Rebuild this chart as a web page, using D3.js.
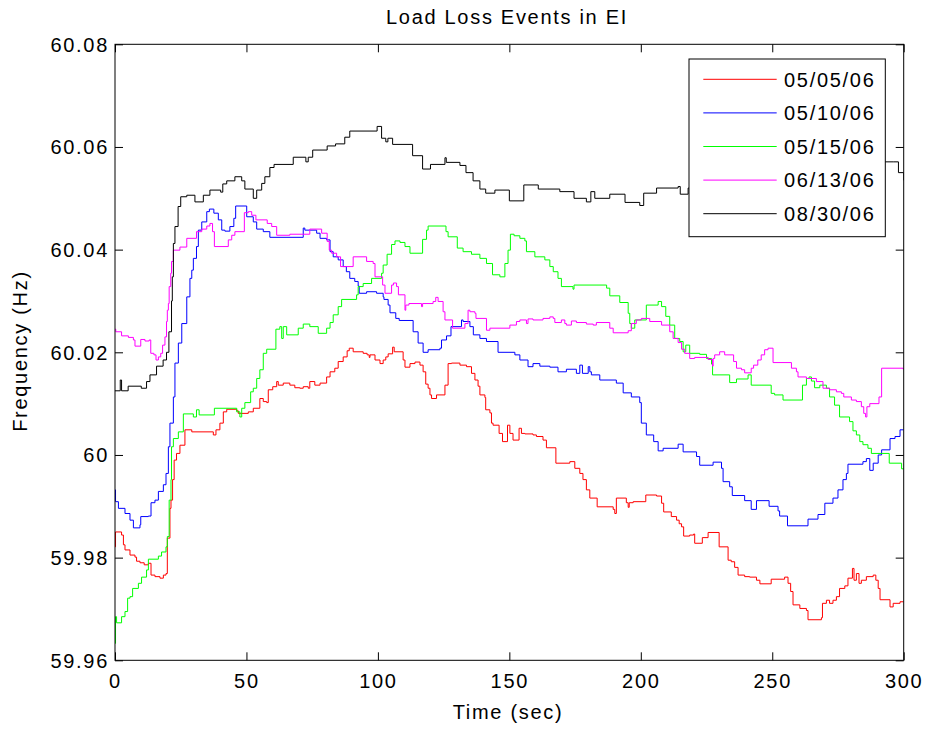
<!DOCTYPE html>
<html>
<head>
<meta charset="utf-8">
<script src="https://cdn.jsdelivr.net/npm/d3@7"></script>
<style>
  body { margin: 0; background: #fff; }
  svg text { font-family: "Liberation Sans", Arial, sans-serif; font-size: 20px; letter-spacing: 1.7px; fill: #000; }
</style>
</head>
<body>
<svg id="canvas" width="927" height="730"></svg>
<script>
// event dates (legend order) and their colours
let dates = ['05/05/06', '05/10/06', '05/15/06', '06/13/06', '08/30/06'];
let colors = ['#ff0000', '#0000ff', '#00ff00', '#ff00ff', '#000000'];
let xTicks = [0, 50, 100, 150, 200, 250, 300];
let yTicks = [59.96, 59.98, 60, 60.02, 60.04, 60.06, 60.08];
let yTickLabels = ['59.96', '59.98', '60', '60.02', '60.04', '60.06', '60.08'];

// [time (sec), frequency (Hz)], step changes
let ev050506 = [[0,59.9821],[0.2,59.985],[2.5,59.9844],[3.2,59.9825],[3.8,59.9815],[5.7,59.9805],[7.6,59.9801],[8.2,59.9793],[9.5,59.979],[11.1,59.9786],[12.7,59.9789],[13.7,59.9766],[15.2,59.9763],[17.1,59.976],[18.4,59.9766],[19.4,59.9769],[19.9,59.9838],[20.9,59.9896],[21.3,59.9912],[21.9,59.9952],[22.5,59.999],[23.4,60.0003],[24.7,60.0019],[26.6,60.0049],[29.2,60.0045],[37.4,60.0039],[38.4,60.0049],[39.9,60.0062],[41.2,60.0084],[42.5,60.0089],[46.3,60.0086],[46.9,60.0081],[50.7,60.0084],[52.6,60.0091],[55.1,60.011],[56.4,60.0104],[57.7,60.0102],[58.3,60.0127],[60,60.0133],[61.5,60.0143],[62.1,60.0136],[64,60.014],[66.5,60.0136],[68.4,60.0131],[70.3,60.013],[71.6,60.0133],[73.5,60.013],[74.1,60.0143],[76,60.0136],[78,60.014],[80.5,60.0152],[81.8,60.0162],[83.6,60.0169],[84.9,60.0182],[86.8,60.0191],[88.3,60.0203],[89.1,60.0208],[90.6,60.0201],[94.4,60.0198],[95.9,60.0195],[96.7,60.019],[97,60.0195],[98.9,60.0185],[100.8,60.0178],[102,60.0185],[103,60.0191],[103.9,60.0197],[105.6,60.021],[106.2,60.0201],[109.6,60.0185],[110.3,60.0171],[112.2,60.0178],[114.1,60.0181],[116,60.0175],[117.2,60.0162],[118.2,60.0138],[119.1,60.013],[119.8,60.0117],[120.4,60.011],[122.3,60.0117],[125.5,60.0136],[126.7,60.0178],[128,60.0179],[131.2,60.0175],[133.7,60.0172],[135.6,60.0159],[136.9,60.0146],[138.1,60.0134],[138.8,60.0117],[140.7,60.0112],[141,60.0088],[142.6,60.0082],[143.2,60.0062],[143.8,60.0058],[146.1,60.0042],[147.4,60.0026],[149.3,60.0058],[150.2,60.0042],[151.4,60.0029],[153.7,60.0052],[154.6,60.0042],[155.9,60.0041],[159,60.0039],[160.3,60.0036],[162.8,60.0029],[164.1,60.0014],[167.7,59.9984],[173,59.9987],[174.9,59.9974],[176.8,59.9964],[178,59.9952],[179.3,59.9932],[180.6,59.9916],[183.4,59.9899],[189.5,59.9894],[190.1,59.9886],[190.7,59.9916],[194.5,59.9907],[195.2,59.9898],[195.6,59.9907],[197.1,59.9909],[201.9,59.9922],[206,59.992],[207.9,59.9906],[208.7,59.9889],[211.6,59.988],[213.6,59.9873],[214.6,59.9866],[215.5,59.986],[216.3,59.9842],[218.6,59.9844],[220.1,59.9846],[220.5,59.9828],[223.4,59.9839],[225.6,59.9849],[229.8,59.9821],[233.2,59.9795],[234.4,59.9792],[235.7,59.9781],[237,59.9766],[239.5,59.9763],[241.4,59.9762],[244,59.9756],[245.3,59.9749],[249.6,59.9758],[254.7,59.9762],[256,59.975],[257,59.9734],[257.9,59.9708],[260.5,59.9701],[263,59.9697],[263.6,59.9679],[268.7,59.9683],[269.1,59.9711],[270.6,59.9717],[271.8,59.9711],[273.1,59.9717],[274.4,59.9724],[275.6,59.974],[277.6,59.9745],[278.8,59.976],[280.5,59.9779],[281.1,59.9756],[282,59.9769],[283,59.975],[283.9,59.9756],[285.8,59.9763],[288.4,59.9766],[289.4,59.9756],[290.3,59.974],[291,59.9718],[294.8,59.9704],[296,59.9711],[298.6,59.9714],[300,59.9714]];

let ev051006 = [[0,59.9932],[0.2,59.9909],[1.3,59.9896],[3.8,59.9886],[5.7,59.9873],[7,59.9858],[9.5,59.9864],[9.8,59.988],[12.7,59.9881],[13.7,59.9907],[15.2,59.9912],[16.5,59.9929],[18.4,59.9942],[19.4,59.9964],[20.3,60.0016],[20.9,60.0062],[22.2,60.0113],[22.8,60.0179],[24.1,60.0218],[25.4,60.0256],[27.3,60.0308],[28.5,60.0344],[29.2,60.036],[29.8,60.0383],[31,60.0406],[31.7,60.0438],[33,60.0454],[34.9,60.0474],[35.9,60.0479],[37.6,60.0471],[39.3,60.0458],[40.6,60.0438],[41.8,60.0436],[43.7,60.0445],[45.2,60.0461],[45.9,60.0485],[50.1,60.0464],[52.6,60.0454],[53.9,60.044],[56.4,60.0435],[58.9,60.0424],[71.6,60.0442],[72.2,60.0438],[76.7,60.0432],[78,60.0422],[80.5,60.0419],[81.8,60.0396],[83,60.0386],[84.9,60.038],[86.8,60.0367],[88,60.0357],[89.3,60.0344],[91.2,60.0338],[92.5,60.0329],[92.9,60.0315],[95.7,60.0318],[99.5,60.0315],[102,60.0308],[102.3,60.0303],[103.9,60.0292],[104.6,60.0277],[106.8,60.0266],[108.1,60.0262],[113.4,60.024],[115.3,60.0218],[117.2,60.02],[119.1,60.0205],[123.6,60.0208],[124.2,60.0224],[126.1,60.0232],[127.8,60.025],[131.8,60.0263],[132.4,60.026],[135,60.025],[136.3,60.0234],[138.8,60.0227],[141.3,60.0221],[145.7,60.02],[152.1,60.0195],[154,60.0185],[157.1,60.0172],[159,60.0178],[161.6,60.0173],[165.4,60.0171],[168.5,60.0162],[171.7,60.0167],[175.5,60.0159],[176.8,60.0175],[177.8,60.0159],[180,60.0172],[180.6,60.0162],[181.2,60.0156],[184.4,60.0146],[190.7,60.014],[193.3,60.0121],[196.4,60.0113],[199.6,60.0102],[200.2,60.0062],[202.1,60.0039],[204.9,60.0026],[206.6,60.0008],[208.5,60.0013],[214.2,60.0021],[216.1,60.0006],[221.2,59.9997],[222.4,59.998],[227.5,59.9986],[230.7,59.9974],[231.3,59.9948],[233.8,59.9938],[234.8,59.9921],[239.5,59.9911],[242,59.9894],[244,59.9911],[248.8,59.99],[252.2,59.9891],[252.8,59.9881],[255.8,59.9862],[263.6,59.9875],[267.4,59.9884],[270,59.9906],[273.1,59.9916],[275,59.9932],[276.9,59.9952],[278.2,59.9964],[278.8,59.9982],[284.5,59.9987],[285.8,59.9993],[287.1,59.997],[288.4,59.9984],[290.3,60.0],[291.6,60.001],[294.8,60.0032],[296.7,60.0036],[298.6,60.0049],[300,60.0049]];

let ev051506 = [[0,59.9633],[0.2,59.9685],[0.6,59.9673],[2.5,59.9685],[3.8,59.9695],[4.8,59.9721],[5.7,59.9724],[6.7,59.974],[8.9,59.975],[10.1,59.9762],[12,59.9776],[12.7,59.9797],[16.5,59.9803],[17.7,59.9811],[19.4,59.9821],[19.9,59.9841],[20.6,59.9912],[21.3,59.9952],[21.5,60.0016],[22.2,60.0032],[24.1,60.0045],[26,60.008],[29.8,60.0074],[31,60.0088],[32,60.0078],[37.8,60.0091],[46.3,60.0084],[47.5,60.0074],[48.2,60.0091],[49.4,60.0102],[51.6,60.0123],[52.6,60.013],[53.9,60.0149],[55.1,60.0166],[56.4,60.0198],[57.7,60.0206],[61.2,60.0245],[62.7,60.025],[63.4,60.0227],[64,60.025],[65.3,60.0234],[69.7,60.0247],[71.6,60.0255],[74.1,60.025],[77.3,60.0237],[80.5,60.0247],[81.8,60.0258],[83,60.0273],[84.9,60.0289],[86.2,60.0303],[91.9,60.0312],[92.5,60.0328],[94.4,60.0334],[97.6,60.0344],[101.4,60.0354],[102,60.037],[103.5,60.0391],[105.2,60.041],[106.5,60.0417],[108.4,60.0414],[110.3,60.0406],[112.2,60.0393],[117,60.042],[118.5,60.0438],[119.1,60.0446],[125.9,60.0435],[126.7,60.0425],[130.2,60.0403],[132.4,60.0396],[135.6,60.0391],[138.8,60.0383],[141.3,60.0373],[143.6,60.0351],[146.4,60.0347],[148.3,60.0373],[149.5,60.0399],[150.4,60.043],[151.8,60.0427],[154,60.0422],[155.9,60.0417],[156.5,60.0396],[159.7,60.0386],[163.5,60.038],[165.4,60.0367],[166.7,60.0357],[168.5,60.0344],[169.8,60.0328],[174.2,60.0323],[174.6,60.0331],[187,60.0325],[188.2,60.031],[192,60.0297],[195.2,60.0276],[195.8,60.0256],[196.4,60.0247],[197.7,60.0263],[202.1,60.0292],[206.6,60.0299],[207.9,60.0289],[209.5,60.027],[211,60.0253],[212.9,60.0227],[214.8,60.0221],[216.1,60.0201],[217.1,60.0214],[218.6,60.0198],[222.4,60.0196],[225,60.0188],[226.9,60.0177],[227.3,60.0156],[233.8,60.0141],[236.4,60.0148],[240.8,60.0156],[242,60.0136],[249.6,60.012],[250.9,60.0117],[254.1,60.0107],[261.5,60.0136],[263,60.0149],[264,60.0152],[264.9,60.0144],[266.1,60.0131],[268.1,60.0136],[270.6,60.013],[271.8,60.0113],[273.7,60.0097],[275.6,60.0074],[279.4,60.0065],[280.7,60.0047],[282,60.0039],[283.3,60.0026],[284.5,60.002],[286.4,60.0013],[287.7,60.0003],[294.5,59.9984],[299.2,59.9973],[300,59.9973]];

let ev061306 = [[0,60.0245],[0.3,60.024],[2.5,60.0232],[5.1,60.0229],[7,60.0224],[7.6,60.0212],[9.8,60.0225],[11.4,60.0222],[13,60.0224],[13.6,60.0198],[14.8,60.0195],[15.6,60.0185],[16.5,60.0191],[17.4,60.0198],[18.1,60.0214],[19,60.023],[19.6,60.026],[19.9,60.0282],[20.3,60.0295],[20.6,60.0328],[21.2,60.0354],[21.5,60.0377],[22.2,60.0399],[24.7,60.0405],[27.3,60.0422],[31,60.0435],[33,60.044],[34.9,60.0446],[36.1,60.0451],[37.1,60.0435],[37.8,60.0406],[43.1,60.0419],[44.4,60.0428],[45.6,60.0435],[49.2,60.0472],[50.7,60.0474],[52,60.0467],[53.6,60.0458],[57.9,60.0451],[59.6,60.0445],[61.5,60.0428],[66.5,60.043],[74.1,60.044],[78.6,60.0432],[80.7,60.0416],[81.5,60.0399],[82.4,60.0393],[84.3,60.0386],[85.8,60.0367],[90.6,60.0386],[95.7,60.0377],[98.2,60.0373],[98.9,60.0347],[101.8,60.0331],[102.7,60.0315],[105.2,60.0331],[105.9,60.0335],[107.1,60.0328],[107.8,60.0312],[110.3,60.0282],[110.6,60.0292],[111.8,60.0295],[116.6,60.0289],[117,60.0295],[121,60.0299],[122,60.0307],[122.9,60.0299],[124.8,60.0279],[125.5,60.0263],[128.4,60.0247],[133.1,60.0256],[134.3,60.0282],[135,60.0279],[136.9,60.0276],[137.3,60.0266],[141.3,60.0243],[142.6,60.0247],[150.2,60.0253],[152.7,60.026],[154,60.0263],[156.5,60.0256],[157.1,60.0265],[159,60.0263],[162.8,60.0266],[165.4,60.0269],[166.7,60.0266],[167.3,60.0258],[169.8,60.0263],[171.1,60.0256],[171.7,60.0253],[173.6,60.0261],[175.5,60.0258],[179.3,60.0255],[181.9,60.0253],[183.1,60.0258],[188.2,60.0247],[189.5,60.0238],[195.2,60.0242],[196.4,60.0256],[198.3,60.0263],[200.2,60.0266],[203.4,60.026],[207.9,60.0253],[211,60.024],[212.3,60.0227],[214.2,60.0219],[215.5,60.0206],[216.7,60.0198],[218.6,60.0188],[220.5,60.019],[225.6,60.0186],[227.3,60.0173],[227.5,60.0188],[228.1,60.0195],[230,60.0201],[231.9,60.0195],[235.3,60.0182],[236.4,60.0169],[238.3,60.0166],[239.5,60.016],[242,60.0169],[242.9,60.0175],[244.5,60.0185],[245.8,60.0195],[247.1,60.0205],[248.4,60.0208],[250.3,60.018],[257.3,60.0169],[259.2,60.0162],[259.8,60.0152],[263,60.0149],[266.8,60.0143],[269.3,60.013],[271.8,60.0127],[274.4,60.0123],[276.3,60.012],[277.2,60.0113],[280.1,60.0107],[282,60.0104],[283.9,60.0094],[284.8,60.0081],[285.5,60.0074],[286,60.0094],[287.1,60.01],[290.6,60.0113],[291.6,60.0169],[299.8,60.0167],[300,60.0167]];

let ev083006 = [[0,60.0125],[2,60.0146],[2.5,60.0125],[5,60.0134],[10,60.013],[12,60.0143],[13.3,60.0156],[15.8,60.0173],[18.3,60.0185],[19.6,60.02],[20.5,60.024],[21.5,60.03],[21.8,60.0347],[22.2,60.0412],[22.8,60.0445],[24,60.0484],[25,60.0503],[27.3,60.0506],[30.4,60.0493],[33.6,60.0506],[36.1,60.0516],[40.2,60.0512],[41,60.0528],[42.5,60.0534],[45.6,60.0542],[48.2,60.0534],[49.4,60.0518],[52.6,60.05],[53.9,60.0516],[55.8,60.0529],[57,60.0542],[58.9,60.056],[60.5,60.0566],[67.8,60.058],[72.6,60.0571],[73.5,60.058],[75.2,60.0594],[80.7,60.0602],[83.9,60.0606],[87.4,60.0619],[89.3,60.0631],[99.7,60.064],[101.4,60.0617],[103,60.061],[103.8,60.0617],[105.6,60.0605],[113.2,60.0583],[117,60.0557],[120,60.0566],[125.5,60.0579],[126,60.057],[131.2,60.0564],[133.5,60.055],[136.2,60.0534],[138.8,60.0518],[141,60.051],[144.5,60.0516],[150,60.0495],[155.5,60.0526],[161,60.0518],[169.2,60.0513],[174.6,60.05],[179.3,60.0493],[181,60.0513],[182.5,60.05],[188.2,60.0508],[194,60.0492],[199.6,60.0486],[201.1,60.051],[206,60.052],[214.2,60.0523],[215,60.0508],[218,60.052],[230,60.053],[245,60.054],[260,60.055],[275,60.056],[290,60.0571],[296,60.0571],[298,60.055],[300,60.0535]];

let series = [ev050506, ev051006, ev051506, ev061306, ev083006];

let svg = d3.select('#canvas');
let plotLeft = 115, plotRight = 903.7, plotTop = 44.3, plotBottom = 660.3;

let x = d3.scaleLinear().domain([0, 300]).range([plotLeft, plotRight]);
let y = d3.scaleLinear().domain([59.96, 60.08]).range([plotBottom, plotTop]);

svg.append('defs').append('clipPath').attr('id', 'plot')
  .append('rect')
  .attr('x', plotLeft).attr('y', plotTop)
  .attr('width', plotRight - plotLeft).attr('height', plotBottom - plotTop);

// traces
let line = d3.line()
  .x(d => x(d[0]))
  .y(d => y(d[1]))
  .curve(d3.curveStepAfter);

svg.append('g')
  .attr('clip-path', 'url(#plot)')
  .selectAll('path')
  .data(series)
  .enter()
  .append('path')
  .attr('d', d => line(d))
  .attr('fill', 'none')
  .attr('stroke', (d, i) => colors[i])
  .attr('stroke-width', 1);

// axes, ticks pointing inwards on all four sides
let xAxis = d3.axisBottom(x).tickValues(xTicks).tickFormat(d3.format('d'))
  .tickSizeInner(-8).tickSizeOuter(0).tickPadding(14);
let yAxis = d3.axisLeft(y).tickValues(yTicks).tickFormat((d, i) => yTickLabels[i])
  .tickSizeInner(-8).tickSizeOuter(0).tickPadding(6);

let gx = svg.append('g').attr('transform', 'translate(0,' + plotBottom + ')').call(xAxis);
let gy = svg.append('g').attr('transform', 'translate(' + plotLeft + ',0)').call(yAxis);
svg.append('g').attr('transform', 'translate(0,' + plotTop + ')')
  .call(d3.axisTop(x).tickValues(xTicks).tickFormat('').tickSizeInner(-8).tickSizeOuter(0));
svg.append('g').attr('transform', 'translate(' + plotRight + ',0)')
  .call(d3.axisRight(y).tickValues(yTicks).tickFormat('').tickSizeInner(-8).tickSizeOuter(0));

svg.selectAll('.domain').remove();
svg.selectAll('.tick line').attr('stroke', '#000');
svg.selectAll('.tick text')
  .attr('font-family', null).attr('font-size', null)
  .style('font-size', '20px');
gy.selectAll('.tick text').attr('dy', '0.34em');

svg.append('rect')
  .attr('x', plotLeft).attr('y', plotTop)
  .attr('width', plotRight - plotLeft).attr('height', plotBottom - plotTop)
  .attr('fill', 'none').attr('stroke', '#000').attr('stroke-width', 1);

// labels
svg.append('text')
  .attr('x', 507).attr('y', 23.5)
  .attr('text-anchor', 'middle')
  .text('Load Loss Events in EI');

svg.append('text')
  .attr('x', 508).attr('y', 719)
  .attr('text-anchor', 'middle')
  .text('Time (sec)');

svg.append('text')
  .attr('transform', 'translate(27,351) rotate(-90)')
  .attr('text-anchor', 'middle')
  .text('Frequency (Hz)');

// legend
let legend = svg.append('g');
legend.append('rect')
  .attr('x', 689).attr('y', 59)
  .attr('width', 196.3).attr('height', 177.7)
  .attr('fill', '#fff').attr('stroke', '#000').attr('stroke-width', 1);

let item = legend.selectAll('g.item')
  .data(dates)
  .enter()
  .append('g')
  .attr('class', 'item')
  .attr('transform', (d, i) => 'translate(0,' + (79.3 + i * 33.6) + ')');

item.append('line')
  .attr('x1', 703.3).attr('x2', 776.7)
  .attr('stroke', (d, i) => colors[i])
  .attr('stroke-width', 1);

item.append('text')
  .attr('x', 784).attr('y', 7.2)
  .text(d => d);
</script>
</body>
</html>
